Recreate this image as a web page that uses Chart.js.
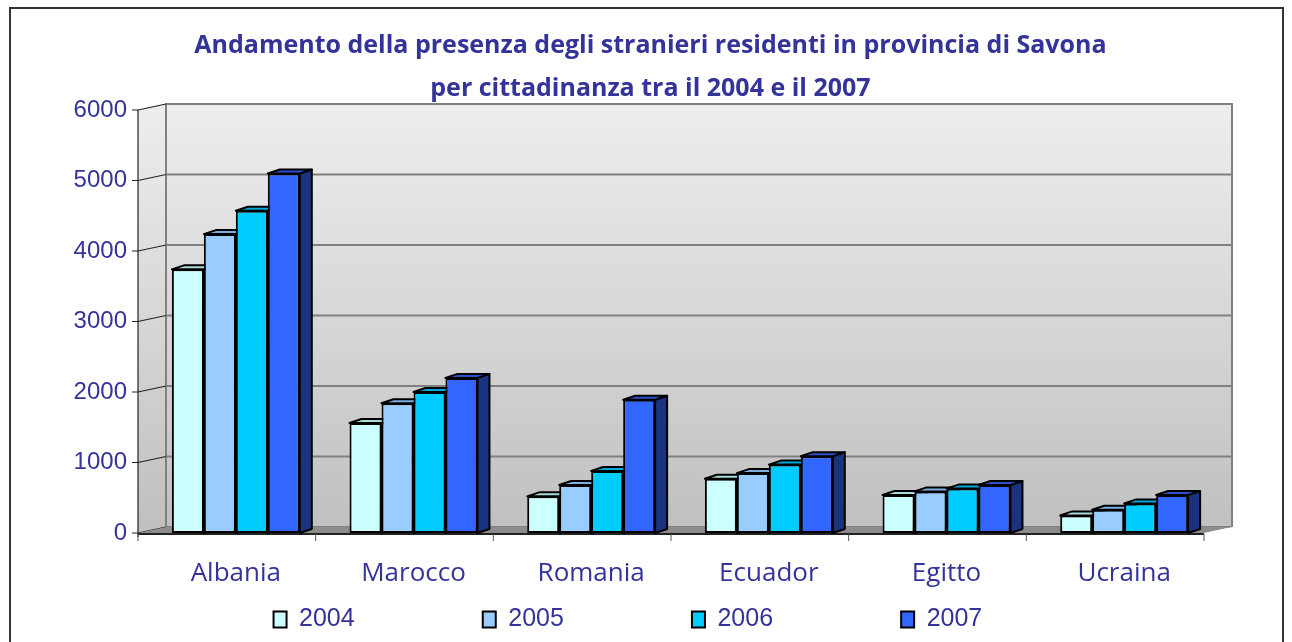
<!DOCTYPE html>
<html>
<head>
<meta charset="utf-8">
<script src="https://cdn.jsdelivr.net/npm/chart.js@4.4.1/dist/chart.umd.min.js"></script>
<style>
  html, body { margin: 0; padding: 0; background: #fff; }
  #wrap { width: 1292px; height: 642px; position: relative; }
</style>
</head>
<body>
<div id="wrap"><canvas id="chart" width="1292" height="642"></canvas></div>
<script>
// --- data ---
const categories = ['Albania', 'Marocco', 'Romania', 'Ecuador', 'Egitto', 'Ucraina'];
const years = ['2004', '2005', '2006', '2007'];
const values2004 = [3740, 1560, 520, 770, 540, 250];
const values2005 = [4240, 1840, 680, 850, 590, 330];
const values2006 = [4570, 2000, 880, 970, 630, 420];
const values2007 = [5100, 2200, 1890, 1090, 680, 540];
const yTicks = [0, 1000, 2000, 3000, 4000, 5000, 6000];

const fillColors = ['#CCFFFF', '#99CCFF', '#00CCFF', '#3366FF'];
const topColors  = ['#A8DCDC', '#7FAEE0', '#00A8D8', '#2A52CC'];
const sideColors = ['#88B8B8', '#5F88B0', '#0088AA', '#1A3380'];

const textColor = '#333399';
const FRONT_DX = -9;   // floor front edge vs bar plane
const BACK_DX = 19;    // back wall vs bar plane
const BACK_DY = -6;
const BAR_DX = 12;     // depth of each bar
const BAR_DY = -4;

// walls, floor, gridlines, frame
const wallsPlugin = {
    id: 'walls',
    beforeDraw(chart) {
        const { ctx, chartArea: a, scales } = chart;
        const y = scales.y;
        const y0 = y.getPixelForValue(0);
        const yMax = y.getPixelForValue(6000);
        ctx.save();

        // outer frame
        ctx.strokeStyle = '#333';
        ctx.lineWidth = 2;
        ctx.strokeRect(10, 8, 1273, 700);

        const fl = a.left + FRONT_DX, fr = a.right + FRONT_DX;
        const bl = a.left + BACK_DX, br = a.right + BACK_DX;

        // back wall
        const g = ctx.createLinearGradient(0, yMax + BACK_DY, 0, y0 + BACK_DY);
        g.addColorStop(0, '#EEEEEE');
        g.addColorStop(1, '#C0C0C0');
        ctx.fillStyle = g;
        ctx.fillRect(bl, yMax + BACK_DY, br - bl, y0 - yMax);

        // left wall
        ctx.beginPath();
        ctx.moveTo(fl, yMax);
        ctx.lineTo(bl, yMax + BACK_DY);
        ctx.lineTo(bl, y0 + BACK_DY);
        ctx.lineTo(fl, y0);
        ctx.closePath();
        ctx.fillStyle = g;
        ctx.fill();

        // gridlines on back wall
        ctx.strokeStyle = '#808080';
        ctx.lineWidth = 2;
        yTicks.forEach(t => {
            if (t === 0) return;
            const py = y.getPixelForValue(t);
            ctx.beginPath();
            ctx.moveTo(bl, py + BACK_DY);
            ctx.lineTo(br, py + BACK_DY);
            ctx.stroke();
        });
        // back wall outline
        ctx.strokeRect(bl, yMax + BACK_DY, br - bl, y0 - yMax);

        // left wall gridlines + front ticks
        ctx.strokeStyle = '#222';
        ctx.lineWidth = 1.2;
        yTicks.forEach(t => {
            const py = y.getPixelForValue(t);
            ctx.beginPath();
            ctx.moveTo(fl - 6, py);
            ctx.lineTo(fl, py);
            ctx.lineTo(bl, py + BACK_DY);
            ctx.stroke();
        });
        ctx.beginPath();
        ctx.moveTo(fl, yMax);
        ctx.lineTo(fl, y0 + 4);
        ctx.stroke();

        // floor
        ctx.beginPath();
        ctx.moveTo(fl, y0);
        ctx.lineTo(fr, y0);
        ctx.lineTo(br, y0 + BACK_DY);
        ctx.lineTo(bl, y0 + BACK_DY);
        ctx.closePath();
        ctx.fillStyle = '#8C8C8C';
        ctx.fill();

        // front axis line + category ticks
        ctx.strokeStyle = '#222';
        ctx.lineWidth = 2;
        ctx.beginPath();
        ctx.moveTo(fl, y0 + 1);
        ctx.lineTo(fr, y0 + 1);
        ctx.stroke();
        ctx.strokeStyle = '#FFFFFF';
        ctx.lineWidth = 1.5;
        ctx.beginPath();
        ctx.moveTo(fr, y0 + 1);
        ctx.lineTo(br + 4, y0 + BACK_DY);
        ctx.stroke();
        ctx.lineWidth = 1;
        ctx.strokeStyle = '#555';
        const step = (fr - fl) / categories.length;
        for (let i = 0; i <= categories.length; i++) {
            ctx.beginPath();
            ctx.moveTo(fl + i * step, y0 + 1);
            ctx.lineTo(fl + i * step, y0 + 8);
            ctx.stroke();
        }
        ctx.restore();
    },
    // top and side faces, drawn before the fronts so neighbours overlap them
    beforeDatasetsDraw(chart) {
        const ctx = chart.ctx;
        ctx.save();
        ctx.lineWidth = 2;
        ctx.strokeStyle = '#000';
        ctx.lineJoin = 'round';
        categories.forEach((c, ci) => {
            years.forEach((yr, di) => {
                const bar = chart.getDatasetMeta(di).data[ci];
                if (!bar) return;
                const half = bar.width / 2;
                const l = bar.x - half, r = bar.x + half, t = bar.y, b = bar.base;
                // side
                ctx.beginPath();
                ctx.moveTo(r, t);
                ctx.lineTo(r + BAR_DX, t + BAR_DY);
                ctx.lineTo(r + BAR_DX, b + BAR_DY);
                ctx.lineTo(r, b);
                ctx.closePath();
                ctx.fillStyle = sideColors[di];
                ctx.fill();
                ctx.stroke();
                // top
                ctx.beginPath();
                ctx.moveTo(l, t);
                ctx.lineTo(l + BAR_DX, t + BAR_DY);
                ctx.lineTo(r + BAR_DX, t + BAR_DY);
                ctx.lineTo(r, t);
                ctx.closePath();
                ctx.fillStyle = topColors[di];
                ctx.fill();
                ctx.stroke();
            });
        });
        ctx.restore();
    }
};

const seriesValues = [values2004, values2005, values2006, values2007];
// legend items are spaced out with trailing no-break spaces
const legendGap = ['\u00a0'.repeat(17), '\u00a0'.repeat(17), '\u00a0'.repeat(17), '\u00a0'.repeat(15)];
const titleShift = '\u00a0'.repeat(12);

new Chart(document.getElementById('chart'), {
    type: 'bar',
    data: {
        labels: categories,
        datasets: years.map((yr, i) => ({
            label: yr,
            data: seriesValues[i],
            backgroundColor: fillColors[i],
            borderColor: '#000',
            borderWidth: 2,
            borderSkipped: false,
            categoryPercentage: 0.72,
            barPercentage: 1.0
        }))
    },
    options: {
        responsive: false,
        animation: false,
        layout: { padding: { left: 10, right: 79, top: 0, bottom: 0 } },
        plugins: {
            title: {
                display: true,
                text: [titleShift + 'Andamento della presenza degli stranieri residenti in provincia di Savona',
                       titleShift + 'per cittadinanza tra il 2004 e il 2007'],
                color: textColor,
                font: { family: '"Comic Sans MS", "Open Sans", sans-serif', size: 25, weight: 'bold', lineHeight: 1.72 },
                padding: { top: 24, bottom: 0 }
            },
            legend: {
                position: 'bottom',
                fullSize: false,
                labels: {
                    color: textColor,
                    font: { family: 'Arial, "Liberation Sans", sans-serif', size: 25 },
                    boxWidth: 13,
                    boxHeight: 16,
                    padding: 10,
                    generateLabels(chart) {
                        return chart.data.datasets.map((ds, i) => ({
                            text: ds.label + legendGap[i],
                            fillStyle: ds.backgroundColor,
                            strokeStyle: '#000',
                            lineWidth: 2,
                            fontColor: textColor,
                            datasetIndex: i
                        }));
                    }
                }
            },
            tooltip: { enabled: false }
        },
        scales: {
            x: {
                grid: { display: false, drawTicks: false },
                border: { display: false },
                ticks: {
                    color: textColor,
                    font: { family: '"Comic Sans MS", "Open Sans", sans-serif', size: 26 },
                    padding: 25
                },
                afterFit(scale) { scale.height = 64; }
            },
            y: {
                min: 0,
                max: 6000,
                grid: { display: false, drawTicks: false },
                border: { display: false },
                ticks: {
                    stepSize: 1000,
                    color: textColor,
                    font: { family: 'Arial, "Liberation Sans", sans-serif', size: 24 },
                    padding: 20,
                    callback: v => String(v)
                },
                afterFit(scale) { scale.width = 137; }
            }
        }
    },
    plugins: [wallsPlugin]
});
</script>
</body>
</html>
